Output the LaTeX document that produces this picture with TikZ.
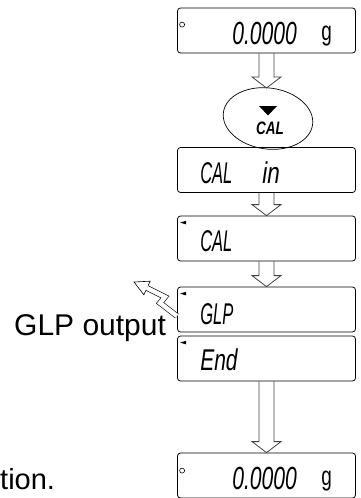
\documentclass[tikz,border=0pt]{standalone}
\usepackage{fontspec}
\setmainfont{Liberation Sans}
\setsansfont{Liberation Sans}
\usetikzlibrary{calc,positioning,shapes.geometric}

\newcommand\segtxt[2]{\scalebox{#1}[1]{\itshape #2}}
\newcommand\blockarr[2]{%
  \draw[barr] let \p1=(#1.south), \p2=(#2.north) in
    (\x1-7.5pt,\y1) -- (\x1-7.5pt,\y2+11pt) -- (\x1-14.5pt,\y2+11pt) -- (\x1,\y2)
    -- (\x1+14.5pt,\y2+11pt) -- (\x1+7.5pt,\y2+11pt) -- (\x1+7.5pt,\y1);}

\begin{document}
\begin{tikzpicture}[x=1pt,y=-1pt,
  disp/.style={rectangle,draw,rounded corners=3pt,minimum width=178pt,minimum height=45pt,inner sep=0pt,line width=0.8pt},
  seg/.style={font=\fontsize{30}{30}\selectfont,inner sep=0pt,anchor=base west},
  barr/.style={draw=black!75,line width=0.8pt,line join=miter},
  lamp/.style={circle,draw,inner sep=0pt,minimum size=5pt,line width=0.6pt},
  big/.style={font=\fontsize{30}{30}\selectfont,inner sep=0pt}
]
\useasboundingbox (0,0) rectangle (361,498);

\node[disp] (zero) at (266.5,30.5) {};
\node[draw,ellipse,minimum width=90pt,minimum height=61pt,rotate=-8,line width=0.7pt] (key) at (268,118.5) {};
\node[disp] (calin) at (266.5,170) {};
\node[disp] (cal) at (266.5,238.5) {};
\node[disp] (glp) at (266.5,309.5) {};
\node[disp] (fin) at (266.5,358.5) {};
\node[disp] (zero2) at (266.5,475.5) {};

\node[seg,font=\fontsize{32}{32}\selectfont] (zv) at ([xshift=55pt,yshift=-37pt]zero.north west) {\segtxt{0.66}{0.0000}};
\node[seg,font=\fontsize{27}{27}\selectfont] (zu) at ([xshift=144pt,yshift=-33pt]zero.north west) {\scalebox{0.7}[1]{g}};
\node[lamp] at ([xshift=5pt,yshift=-17pt]zero.north west) {};

\fill (259,106) -- (277,106) -- (268,115.5) -- cycle;
\node[inner sep=0pt,font=\fontsize{18}{18}\selectfont\bfseries\itshape] (calk) at (270,128.5) {\scalebox{0.75}[1]{CAL}};

\node[seg] (cv) at ([xshift=23pt,yshift=-36pt]calin.north west) {\segtxt{0.55}{CAL}};
\node[seg] (iv) at ([xshift=85pt,yshift=-36pt]calin.north west) {\segtxt{0.75}{in}};
\node[seg] (cv2) at ([xshift=23pt,yshift=-36pt]cal.north west) {\segtxt{0.55}{CAL}};
\node[seg] (gv) at ([xshift=23pt,yshift=-38pt]glp.north west) {\segtxt{0.55}{GLP}};
\node[seg] (ev) at ([xshift=23pt,yshift=-35pt]fin.north west) {\segtxt{0.7}{End}};

\node[seg,font=\fontsize{32}{32}\selectfont] (zv2) at ([xshift=55pt,yshift=-37pt]zero2.north west) {\segtxt{0.66}{0.0000}};
\node[seg,font=\fontsize{27}{27}\selectfont] (zu2) at ([xshift=144pt,yshift=-33pt]zero2.north west) {\scalebox{0.7}[1]{g}};
\node[lamp] at ([xshift=5pt,yshift=-18pt]zero2.north west) {};

\foreach \b in {cal,glp,fin}
  \fill ([xshift=3pt,yshift=-7pt]\b.north west) -- ++(6pt,1.8pt) -- ++(0,-3.6pt) -- cycle;

\blockarr{zero}{key}
\blockarr{calin}{cal}
\blockarr{cal}{glp}
\blockarr{fin}{zero2}

\node[big,anchor=base west] (gout) at (14,335) {GLP output};
\node[big,font=\fontsize{29}{29}\selectfont,anchor=base west] (tion) at (0,489) {tion.};

\draw[double=white,double distance=4.4pt,line width=0.6pt,line join=miter]
  (177,316) -- (160,303) -- (165,297) -- (147,288);
\fill[white] (150.2,281.2) -- (134,282) -- (143.8,294.8) -- cycle;
\draw[line width=0.6pt,line join=miter]
  (148.2,285.5) -- (150.2,281.2) -- (134,282) -- (143.8,294.8) -- (145.8,290.5);
\end{tikzpicture}
\end{document}
